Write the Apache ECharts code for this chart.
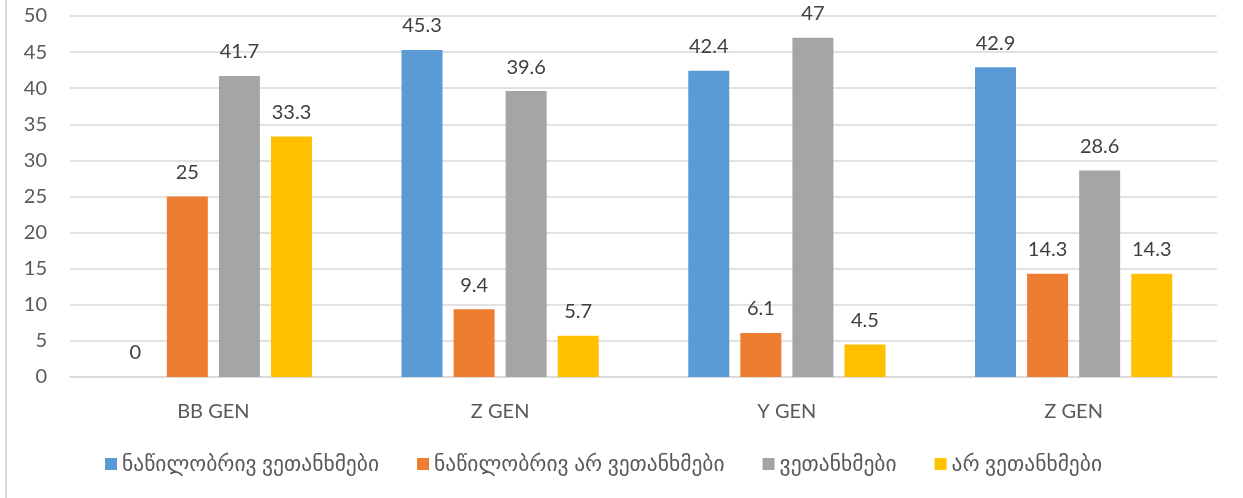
<!DOCTYPE html>
<html>
<head>
<meta charset="utf-8">
<script src="https://cdn.jsdelivr.net/npm/echarts@6/dist/echarts.min.js"></script>
<style>
  html, body { margin: 0; padding: 0; background: #fff; }
  #chart { width: 1243px; height: 498px; }
</style>
</head>
<body>
<div id="chart"></div>
<script>
// Generations shown along the horizontal axis
const categories = ['BB GEN', 'Z GEN', 'Y GEN', 'Z GEN'];

// Share of answers per generation (%)
const partlyAgree = [0, 45.3, 42.4, 42.9];
const partlyDisagree = [25, 9.4, 6.1, 14.3];
const agree = [41.7, 39.6, 47, 28.6];
const disagree = [33.3, 5.7, 4.5, 14.3];

const seriesNames = [
  'ნაწილობრივ ვეთანხმები',
  'ნაწილობრივ არ ვეთანხმები',
  'ვეთანხმები',
  'არ ვეთანხმები'
];
const seriesValues = [partlyAgree, partlyDisagree, agree, disagree];
const colors = ['#5B9BD5', '#ED7D31', '#A5A5A5', '#FFC000'];

const FONT = 'Lato, "DejaVu Sans", sans-serif';

const chart = echarts.init(document.getElementById('chart'), null, { renderer: 'canvas' });

chart.setOption({
  animation: false,
  backgroundColor: '#ffffff',
  color: colors,
  grid: { left: 70, right: 26, top: 16, bottom: 121, containLabel: false },
  legend: {
    bottom: 18,
    left: 100,
    itemWidth: 12,
    itemHeight: 12,
    itemGap: 38,
    icon: 'rect',
    textStyle: { color: '#595959', fontSize: 21.5, fontFamily: FONT },
    data: seriesNames
  },
  xAxis: {
    type: 'category',
    data: categories,
    axisLine: { lineStyle: { color: '#D9D9D9', width: 1.5 } },
    axisTick: { show: false },
    axisLabel: { color: '#595959', fontSize: 20, fontFamily: FONT, margin: 25 }
  },
  yAxis: {
    type: 'value',
    min: 0,
    max: 50,
    interval: 5,
    axisLine: { show: false },
    axisTick: { show: false },
    axisLabel: { color: '#595959', fontSize: 20, fontFamily: FONT, margin: 23 },
    splitLine: { lineStyle: { color: '#D9D9D9', width: 1.5 } }
  },
  series: seriesNames.map((name, i) => ({
    name,
    type: 'bar',
    data: seriesValues[i],
    barWidth: 41,
    barGap: '27%',
    itemStyle: { color: colors[i] },
    label: {
      show: true,
      position: 'top',
      distance: 14,
      color: '#404040',
      fontSize: 20,
      fontFamily: FONT
    }
  })),
  graphic: [{
    type: 'line',
    shape: { x1: 6, y1: 0, x2: 6, y2: 498 },
    style: { stroke: '#D9D9D9', lineWidth: 2 }
  }]
});
</script>
</body>
</html>
